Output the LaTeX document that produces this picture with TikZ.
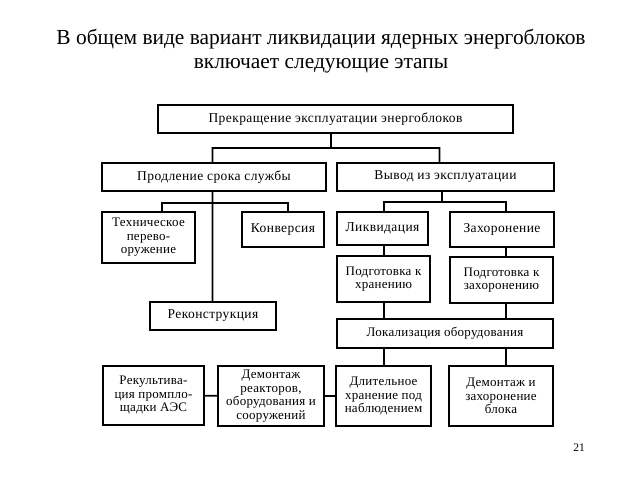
\documentclass[tikz,border=0pt]{standalone}
\usepackage{fontspec}
\setmainfont{Liberation Serif}
\usetikzlibrary{positioning}

\begin{document}
\begin{tikzpicture}
		[x=1pt,y=-1pt,line width=1.8pt,
		box node/.style={shape=rectangle,draw,fill=white,align=center,inner sep=1pt,
			font=\fontsize{13.5}{13}\selectfont\addfontfeature{LetterSpace=3}},
		multi node/.style={box node,font=\fontsize{13}{13.5}\selectfont\addfontfeature{LetterSpace=2}},
		title text/.style={align=center,font=\fontsize{21.4}{23.5}\selectfont}]
		\useasboundingbox (0,0) rectangle (640,480);
		
		\node [title text] (title) at (321,51) {В общем виде вариант ликвидации ядерных энергоблоков\\включает следующие этапы};
		\node [font=\fontsize{11.5}{12}\selectfont] (page) at (579,448) {21};
		
		\node [box node,minimum width=355,minimum height=28] (stop) at (335.5,119) {Прекращение эксплуатации энергоблоков};
		\node [box node,minimum width=224,minimum height=28] (extend) at (214,177) {Продление срока службы};
		\node [box node,minimum width=217,minimum height=28] (decom) at (445.5,177) {Вывод из эксплуатации};
		
		\node [multi node,minimum width=93,minimum height=51] (tech) at (148.5,237.5) {Техническое\\перево-\\оружение};
		\node [box node,minimum width=82,minimum height=35] (conv) at (283,229.5) {Конверсия};
		\node [box node,minimum width=126,minimum height=28] (recon) at (213,316) {Реконструкция};
		
		\node [box node,minimum width=91,minimum height=33] (liq) at (382.5,228.5) {Ликвидация};
		\node [box node,minimum width=104,minimum height=35] (burial) at (502,229.5) {Захоронение};
		\node [multi node,minimum width=93,minimum height=46] (prepstore) at (383.5,279) {Подготовка к\\хранению};
		\node [multi node,minimum width=103,minimum height=46] (prepbury) at (501.5,280) {Подготовка к\\захоронению};
		\node [multi node,minimum width=216,minimum height=29] (local) at (445,333.5) {Локализация оборудования};
		
		\node [multi node,minimum width=101,minimum height=59] (recult) at (153.5,395.5) {Рекультива-\\ция промпло-\\щадки АЭС};
		\node [multi node,minimum width=106,minimum height=60] (dismantle) at (271,396) {Демонтаж\\реакторов,\\оборудования и\\сооружений};
		\node [multi node,minimum width=95,minimum height=60] (longstore) at (383.5,396) {Длительное\\хранение под\\наблюдением};
		\node [multi node,minimum width=104,minimum height=60] (dismbury) at (501,396) {Демонтаж и\\захоронение\\блока};
		
		% branch points and line columns
		\coordinate (split top) at (331,148);
		\coordinate (split ext) at (212.5,203);
		\coordinate (split dec) at (442,202);
		\coordinate (col tech) at (162,0);
		\coordinate (col conv) at (288,0);
		\coordinate (col ext) at (212.5,0);
		\coordinate (col dec) at (439.5,0);
		\coordinate (col left) at (384,0);
		\coordinate (col right) at (506,0);
		
		\path[draw]
		(stop.south -| split top) -- (split top)
		(extend.north -| col ext) |- (split top) -| (decom.north -| col dec)
		(extend.south -| col ext) -- (recon.north -| col ext)
		(split ext) -| (tech.north -| col tech)
		(split ext) -| (conv.north -| col conv)
		(decom.south -| split dec) -- (split dec)
		(liq.north -| col left) |- (split dec) -| (burial.north -| col right)
		(liq.south -| col left) -- (prepstore.north -| col left)
		(burial.south -| col right) -- (prepbury.north -| col right)
		(prepstore.south -| col left) -- (local.north -| col left)
		(prepbury.south -| col right) -- (local.north -| col right)
		(local.south -| col left) -- (longstore.north -| col left)
		(local.south -| col right) -- (dismbury.north -| col right)
		(recult) -- (dismantle)
		(dismantle) -- (longstore)
		;
		
	\end{tikzpicture}
\end{document}
